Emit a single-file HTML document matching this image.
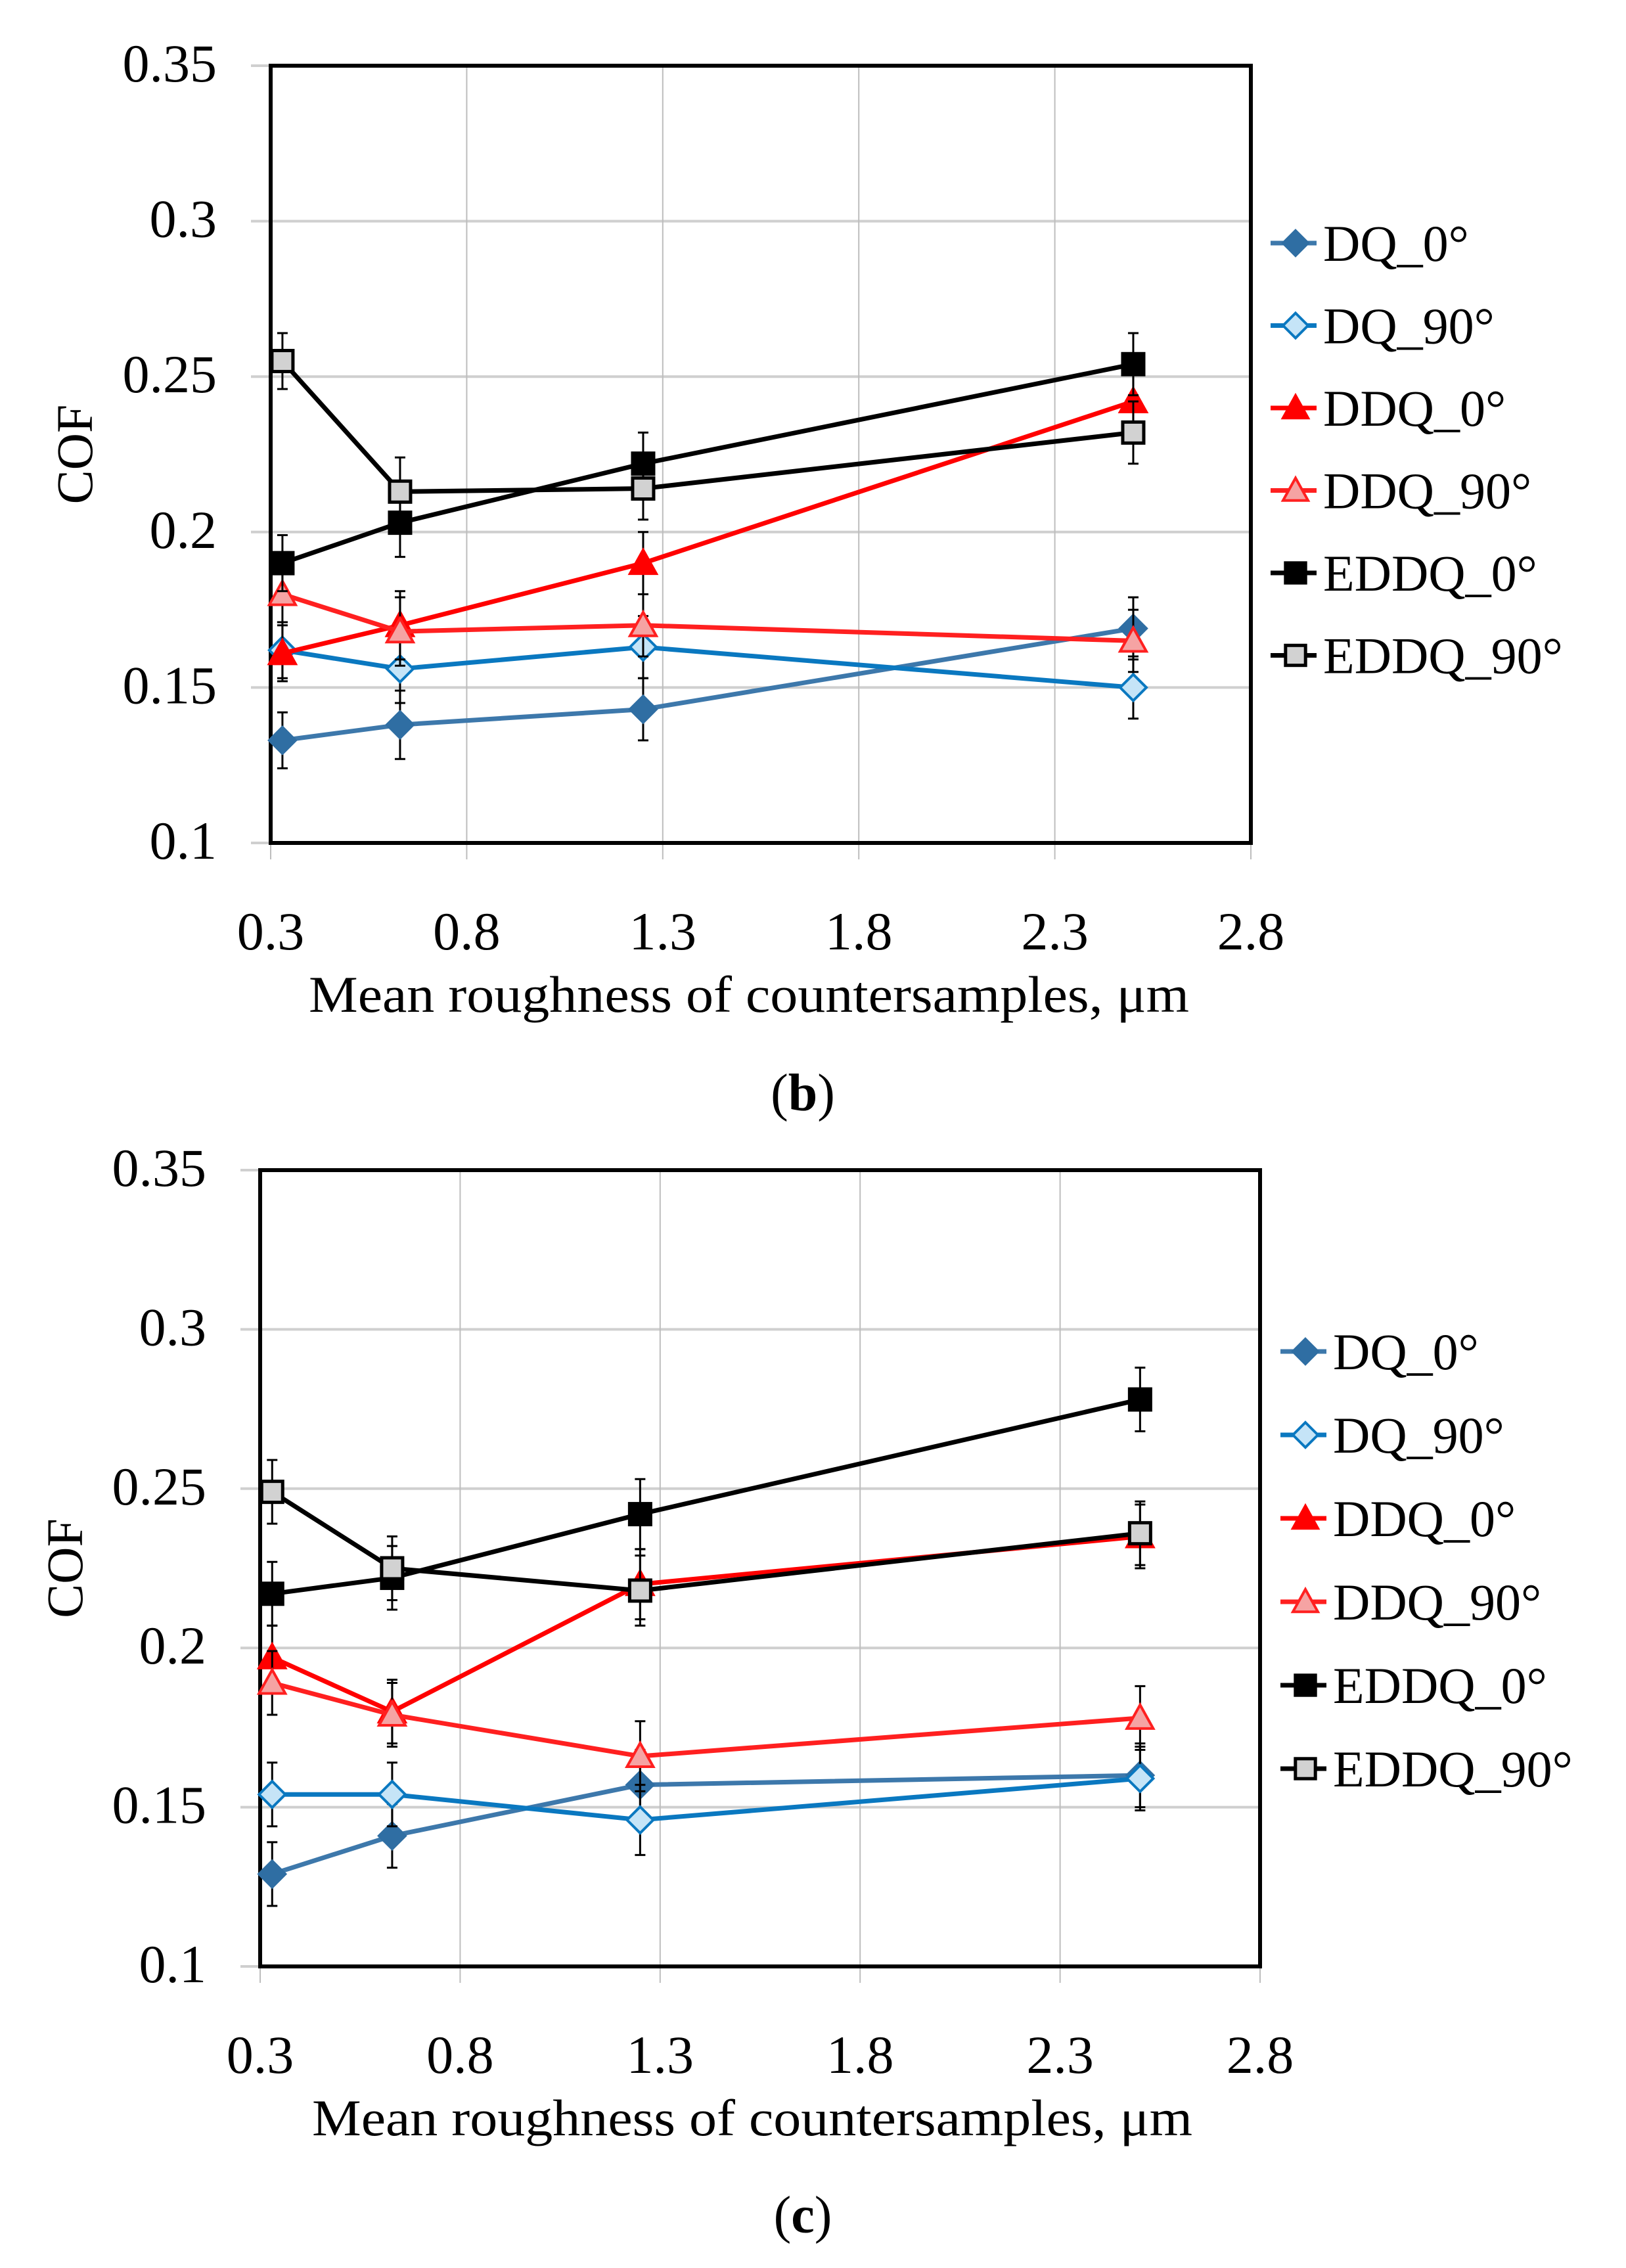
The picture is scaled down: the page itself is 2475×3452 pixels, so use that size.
<!DOCTYPE html>
<html><head><meta charset="utf-8">
<style>
html,body{margin:0;padding:0;background:#fff;}
svg{display:block;}
text{font-family:"Liberation Serif",serif;fill:#000;}
</style></head>
<body>
<svg id="fig" width="2475" height="3452" viewBox="0 0 2475 3452" xmlns="http://www.w3.org/2000/svg"></svg>
<script>
const xCats = [0.33, 0.63, 1.25, 2.5];
const xTicks = [0.3, 0.8, 1.3, 1.8, 2.3, 2.8];
const xTickLabels = ["0.3","0.8","1.3","1.8","2.3","2.8"];
const yTicks = [0.1, 0.15, 0.2, 0.25, 0.3, 0.35];
const yTickLabels = ["0.1","0.15","0.2","0.25","0.3","0.35"];
const seriesNames = ["DQ_0°","DQ_90°","DDQ_0°","DDQ_90°","EDDQ_0°","EDDQ_90°"];

const b_DQ0 = [0.133, 0.138, 0.143, 0.169];
const b_DQ90 = [0.162, 0.156, 0.163, 0.150];
const b_DDQ0 = [0.161, 0.170, 0.190, 0.242];
const b_DDQ90 = [0.180, 0.168, 0.170, 0.165];
const b_EDDQ0 = [0.190, 0.203, 0.222, 0.254];
const b_EDDQ90 = [0.255, 0.213, 0.214, 0.232];
const b_err = [0.009, 0.011, 0.010, 0.010];

const c_DQ0 = [0.129, 0.141, 0.157, 0.160];
const c_DQ90 = [0.154, 0.154, 0.146, 0.159];
const c_DDQ0 = [0.197, 0.180, 0.220, 0.235];
const c_DDQ90 = [0.189, 0.179, 0.166, 0.178];
const c_EDDQ0 = [0.217, 0.222, 0.242, 0.278];
const c_EDDQ90 = [0.249, 0.225, 0.218, 0.236];
const c_err = [0.010, 0.010, 0.011, 0.010];

const NS = "http://www.w3.org/2000/svg";
const svg = document.getElementById('fig');
function mk(tag, attrs, parent){
  const e = document.createElementNS(NS, tag);
  for (const k in attrs) e.setAttribute(k, attrs[k]);
  (parent||svg).appendChild(e);
  return e;
}
const styles = [
  {line:"#3d78ab", stroke:"#2f6ea3", fill:"#2f6ea3", marker:"diamond"},
  {line:"#0a78c0", stroke:"#0a78c0", fill:"#c5e4f7", marker:"diamond"},
  {line:"#ff0000", stroke:"#ff0000", fill:"#ff0000", marker:"triangle"},
  {line:"#ff2020", stroke:"#ff2020", fill:"#f5a3a3", marker:"triangle"},
  {line:"#000000", stroke:"#000000", fill:"#000000", marker:"square"},
  {line:"#000000", stroke:"#000000", fill:"#d2d2d2", marker:"square"}
];
function marker(g, type, cx, cy, st, s){
  let el;
  if(type==="diamond"){
    el = mk('polygon',{points:`${cx},${cy-s} ${cx+s},${cy} ${cx},${cy+s} ${cx-s},${cy}`,fill:st.fill,stroke:st.stroke,'stroke-width':4},g);
  } else if(type==="triangle"){
    el = mk('polygon',{points:`${cx},${cy-s} ${cx+s},${cy+s*0.8} ${cx-s},${cy+s*0.8}`,fill:st.fill,stroke:st.stroke,'stroke-width':4},g);
  } else {
    const h=s*0.8;
    el = mk('rect',{x:cx-h,y:cy-h,width:2*h,height:2*h,fill:st.fill,stroke:st.stroke,'stroke-width':5},g);
  }
  return el;
}

function chart(cfg){
  const {L,T,R,B,id,series,err,legX,legY,legStep,titleY,titleX,capY,cap,cofX} = cfg;
  const g = mk('g',{});
  
  
  const xs = v => L + (v-0.3)/(2.8-0.3)*(R-L);
  const ys = v => B - (v-0.1)/(0.35-0.1)*(B-T);
  yTicks.forEach((v,i)=>{
    const gl = mk('line',{x1:L-30,x2:R,y1:ys(v),y2:ys(v),stroke:"#cfcfcf",'stroke-width':4},g);
    
    
    const t = mk('text',{x:L-82,y:ys(v)+24,'font-size':82,'text-anchor':'end'},g);
    t.textContent = yTickLabels[i];
    
    
  });
  xTicks.forEach((v,i)=>{
    const gl = mk('line',{x1:xs(v),x2:xs(v),y1:T,y2:B+25,stroke:"#bdbdbd",'stroke-width':2},g);
    
    
    const t = mk('text',{x:xs(v),y:B+162,'font-size':82,'text-anchor':'middle'},g);
    t.textContent = xTickLabels[i];
    
    
  });
  const frame = mk('rect',{x:L,y:T,width:R-L,height:B-T,fill:"none",stroke:"#000",'stroke-width':6},g);
  
  
  series.forEach((vals,si)=>{
    const st = styles[si];
    const sg = mk('g',{},g);
    
    
    vals.forEach((v,i)=>{
      const x = xs(xCats[i]), e = err[i];
      const eb = mk('path',{d:`M${x},${ys(v+e)}V${ys(v-e)}M${x-8},${ys(v+e)}H${x+8}M${x-8},${ys(v-e)}H${x+8}`,stroke:"#000",'stroke-width':3,fill:"none"},sg);
      
      
    });
    const pts = vals.map((v,i)=>xs(xCats[i])+','+ys(v)).join(' ');
    const pl = mk('polyline',{points:pts,fill:"none",stroke:st.line,'stroke-width':7},sg);
    
    
    vals.forEach((v,i)=>{
      const m = marker(sg, st.marker, xs(xCats[i]), ys(v), st, 20);
      
      
    });
    const ly = legY + si*legStep;
    const lg = mk('g',{},g);
    
    
    mk('line',{x1:legX,x2:legX+70,y1:ly,y2:ly,stroke:st.line,'stroke-width':7},lg);
    marker(lg, st.marker, legX+38, ly, st, 19);
    const lt = mk('text',{x:legX+80,y:ly+27,'font-size':78},lg);
    lt.textContent = seriesNames[si];
  });
  const xt = mk('text',{x:titleX,y:titleY,'font-size':78,'text-anchor':'middle',textLength:1340,lengthAdjust:'spacingAndGlyphs'},g);
  xt.textContent = "Mean roughness of countersamples, μm";
  
  
  const yt = mk('text',{x:0,y:0,'font-size':78,'text-anchor':'middle',transform:`translate(${cofX},${(T+B)/2}) rotate(-90)`},g);
  yt.textContent = "COF";
  
  
  const ct = mk('text',{x:1222,y:capY,'font-size':80,'text-anchor':'middle'},g);
  ct.innerHTML = '(<tspan font-weight="bold">'+cap+'</tspan>)';
  
  
}

chart({id:'b',L:412,T:100,R:1904,B:1283,series:[b_DQ0,b_DQ90,b_DDQ0,b_DDQ90,b_EDDQ0,b_EDDQ90],err:b_err,
  legX:1934,legY:370,legStep:125.5,titleX:1140,titleY:1540,capY:1690,cap:'b',cofX:140});
chart({id:'c',L:396,T:1781,R:1918,B:2993,series:[c_DQ0,c_DQ90,c_DDQ0,c_DDQ90,c_EDDQ0,c_EDDQ90],err:c_err,
  legX:1949,legY:2057,legStep:127,titleX:1145,titleY:3250,capY:3398,cap:'c',cofX:125});
</script>
</body></html>
